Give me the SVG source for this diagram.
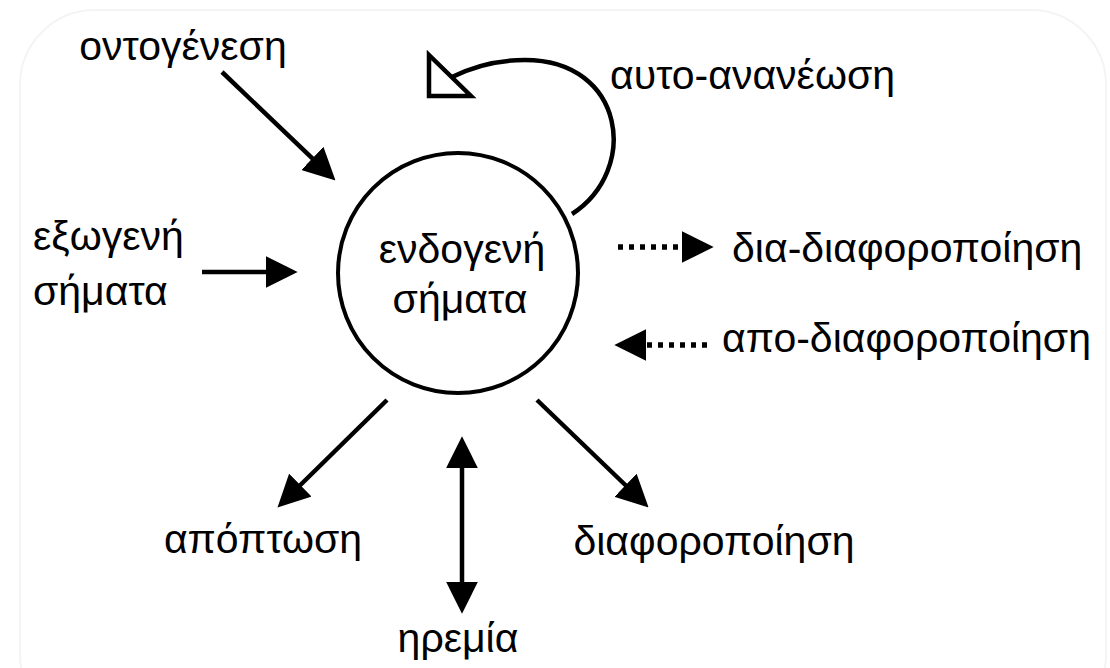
<svg xmlns="http://www.w3.org/2000/svg" width="1110" height="668" viewBox="0 0 1110 668">
<defs>
<style>
.t{font-family:"Liberation Sans",Arial,sans-serif;font-size:41px;fill:#000}
.c{text-anchor:middle}
.ln{stroke:#000;stroke-width:4.5;fill:none}
.dot{stroke:#000;stroke-width:5.5;fill:none;stroke-dasharray:5 6}
</style>
<marker id="ah" markerUnits="userSpaceOnUse" markerWidth="32" markerHeight="32" viewBox="0 0 30 30" refX="20" refY="15" orient="auto-start-reverse">
<path d="M0,0 L30,15 L0,30 z" fill="#000"/>
</marker>
</defs>
<rect width="1110" height="668" fill="#fff"/>
<rect x="20" y="10" width="1086" height="720" rx="75" fill="none" stroke="#f4f4f4" stroke-width="2"/>
<g id="center">
<circle cx="458" cy="273" r="120" fill="none" stroke="#000" stroke-width="4"/>
<text class="t c" x="462" y="263">ενδογενή</text>
<text class="t c" x="460" y="313">σήματα</text>
</g>
<g id="ontogenesi"><text class="t c" x="183" y="60">οντογένεση</text></g>
<g id="autoananeosi"><text class="t" x="610" y="89">αυτο-ανανέωση</text></g>
<g id="exogeni"><text class="t" x="33" y="250">εξωγενή</text><text class="t" x="33" y="305">σήματα</text></g>
<g id="diadiaforopoiisi"><text class="t" x="732" y="262">δια-διαφοροποίηση</text></g>
<g id="apodiaforopoiisi"><text class="t" x="722" y="352">απο-διαφοροποίηση</text></g>
<g id="apoptosi"><text class="t c" x="263" y="553">απόπτωση</text></g>
<g id="diaforopoiisi"><text class="t c" x="714" y="555">διαφοροποίηση</text></g>
<g id="iremia"><text class="t c" x="458" y="652">ηρεμία</text></g>
<g id="connectors">
<line class="ln" x1="222" y1="72" x2="327.8" y2="173.1" marker-end="url(#ah)"/>
<line class="ln" x1="202" y1="272" x2="287" y2="272" marker-end="url(#ah)"/>
<line class="ln" x1="387" y1="400" x2="285.1" y2="500" marker-end="url(#ah)"/>
<line class="ln" x1="537" y1="400" x2="640.9" y2="500" marker-end="url(#ah)"/>
<line class="ln" x1="462" y1="447" x2="462" y2="603" marker-start="url(#ah)" marker-end="url(#ah)"/>
<line class="dot" x1="618" y1="247" x2="703" y2="247" marker-end="url(#ah)"/>
<line class="dot" x1="707" y1="345" x2="625" y2="345" marker-end="url(#ah)"/>
<path class="ln" d="M572,214 C640,170 625,60 525,60 C495,60 470,68 452,77"/>
<polygon points="429,55 429,96 471,96" fill="#fff" stroke="#000" stroke-width="4.5" stroke-linejoin="miter"/>
</g>
</svg>
